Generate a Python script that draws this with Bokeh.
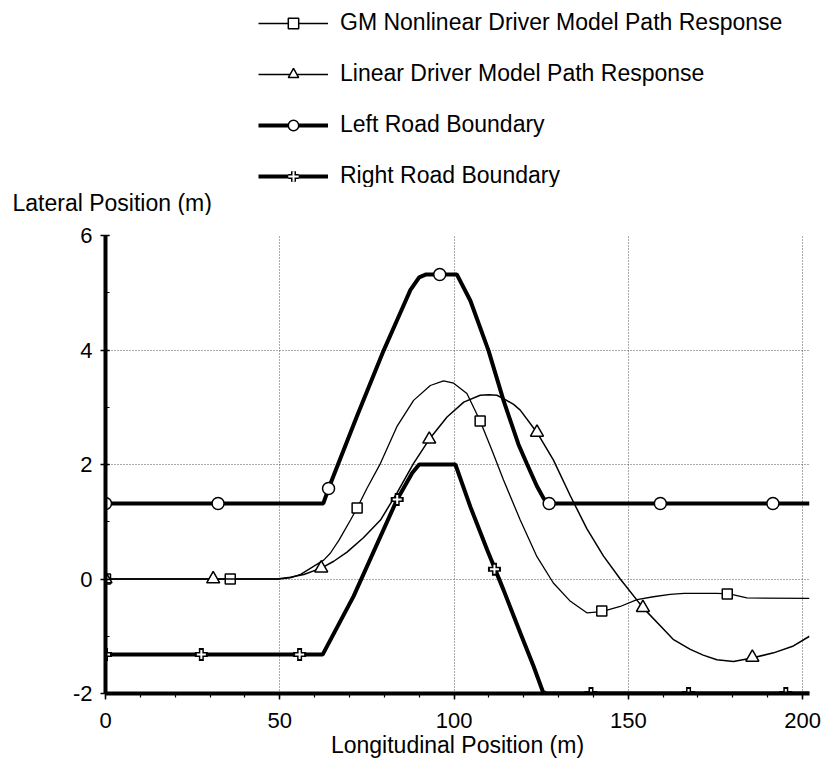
from bokeh.plotting import figure
from bokeh.models import Range1d, SingleIntervalTicker, Legend, LegendItem, Title
from bokeh.layouts import column
from bokeh.embed import file_html
from bokeh.resources import INLINE

# Longitudinal position (m) / lateral position (m) of each trace
left_x = [0, 62.5, 64.0, 72.2, 79.8, 84.6, 87.5, 90.0, 92.0, 100.8, 104.7,
          109.9, 114.2, 118.5, 121.0, 123.8, 125.8, 127.4, 202]
left_y = [1.32, 1.32, 1.58, 2.85, 3.99, 4.65, 5.05, 5.27, 5.32, 5.32, 4.86,
          3.99, 3.12, 2.35, 2.00, 1.62, 1.40, 1.32, 1.32]

right_x = [0, 62.3, 71.2, 83.6, 88.0, 90.0, 100.4, 104.7, 109.5, 114.2,
           119.0, 122.8, 125.5, 126.5, 202]
right_y = [-1.32, -1.32, -0.30, 1.38, 1.85, 2.00, 2.00, 1.26, 0.51, -0.19,
           -0.94, -1.52, -1.97, -2.00, -2.00]

gm_x = [0, 49.5, 53.0, 56.0, 59.7, 62.6, 64.5, 67.0, 70.3, 72.2, 75.0, 78.9,
        83.6, 88.4, 93.2, 97.0, 99.9, 103.7, 107.5, 111.0, 114.2, 119.0,
        123.8, 128.5, 133.4, 138.1, 142.4, 147.7, 152.5, 157.2, 162.0,
        166.0, 175.4, 179.0, 184.0, 202]
gm_y = [0, 0, 0.02, 0.08, 0.22, 0.33, 0.45, 0.68, 1.03, 1.24, 1.58, 2.02,
        2.66, 3.12, 3.38, 3.46, 3.42, 3.24, 2.76, 2.23, 1.73, 1.03,
        0.39, -0.07, -0.39, -0.59, -0.57, -0.48, -0.36, -0.31, -0.27,
        -0.25, -0.25, -0.26, -0.33, -0.34]

lin_x = [0, 49.2, 53.0, 56.9, 61.9, 65.5, 69.3, 74.0, 78.9, 83.6, 88.4, 92.9,
         98.0, 102.8, 107.5, 110.0, 112.3, 114.2, 117.1, 119.0, 123.8, 128.5,
         133.4, 138.1, 142.9, 147.7, 154.2, 161.1, 163.0, 167.8, 171.5,
         175.4, 180.2, 185.5, 191.7, 197.4, 202]
lin_y = [0, 0, 0.03, 0.08, 0.19, 0.31, 0.47, 0.72, 1.03, 1.50, 2.02, 2.44,
         2.83, 3.09, 3.21, 3.22, 3.21, 3.15, 3.05, 2.95, 2.56, 2.08,
         1.45, 0.88, 0.40, 0.00, -0.50, -0.94, -1.06, -1.23, -1.33,
         -1.41, -1.44, -1.38, -1.29, -1.17, -1.00]

# Symbol positions along each trace
gm_mx = [0, 35.8, 72.2, 107.5, 142.4, 178.4]
gm_my = [0, 0, 1.24, 2.76, -0.56, -0.26]
lin_mx = [0, 30.9, 61.9, 92.9, 123.8, 154.2, 185.6]
lin_my = [0, 0, 0.19, 2.44, 2.56, -0.50, -1.37]
left_mx = [0, 32.3, 64.0, 95.9, 127.3, 159.2, 191.5]
left_my = [1.32, 1.32, 1.58, 5.32, 1.32, 1.32, 1.32]
right_mx = [0, 27.5, 55.7, 83.7, 111.6, 139.3, 167.3, 195.2]
right_my = [-1.32, -1.32, -1.32, 1.39, 0.17, -2.0, -2.0, -2.0]

series_names = ["GM Nonlinear Driver Model Path Response",
                "Linear Driver Model Path Response",
                "Left Road Boundary",
                "Right Road Boundary"]
x_title = "Longitudinal Position (m)"
y_title = "Lateral Position (m)"

FONT = "Liberation Sans"
W = 824
HEAD_H = 215          # header strip: the key plus the y caption
MAIN_H = 778 - HEAD_H

# series styles, shared by the chart and its key
styles = {
    "gm": dict(line=dict(line_width=1.3, line_color="black"),
               marks=[dict(marker="square", size=10, fill_color="white",
                           line_color="black", line_width=1.5)]),
    "lin": dict(line=dict(line_width=1.5, line_color="black"),
                marks=[dict(marker="triangle", size=13, fill_color="white",
                            line_color="black", line_width=1.5)]),
    "left": dict(line=dict(line_width=4, line_color="black"),
                 marks=[dict(marker="circle", size=12, fill_color="white",
                             line_color="black", line_width=1.5)]),
    "right": dict(line=dict(line_width=4, line_color="black"),
                  marks=[dict(marker="cross", size=13, line_color="black", line_width=5),
                         dict(marker="cross", size=9, line_color="white", line_width=2)]),
}

# ---------------- main chart ----------------
p = figure(width=W, height=MAIN_H, output_backend="svg", toolbar_location=None,
           x_range=Range1d(0, 202), y_range=Range1d(-2, 6),
           min_border_left=105, min_border_right=15,
           min_border_top=235 - HEAD_H, min_border_bottom=85)
p.outline_line_color = None
p.background_fill_color = "white"
p.border_fill_color = "white"

p.xaxis.ticker = SingleIntervalTicker(interval=50, num_minor_ticks=5)
p.yaxis.ticker = SingleIntervalTicker(interval=2, num_minor_ticks=2)
p.yaxis.major_label_overrides = {-2: "-2"}
for ax in (p.xaxis, p.yaxis):
    ax.axis_line_width = 4
    ax.axis_line_color = "black"
    ax.major_tick_line_color = "black"
    ax.minor_tick_line_color = "black"
    ax.major_tick_line_width = 1.5
    ax.minor_tick_line_width = 1.2
    ax.major_label_text_font = FONT
    ax.major_label_text_font_size = "22px"
    ax.major_label_text_color = "black"
p.xaxis.major_tick_in = 0
p.xaxis.major_tick_out = 6
p.xaxis.minor_tick_in = 0
p.xaxis.minor_tick_out = 4
p.xaxis.major_label_standoff = 13
p.xaxis.axis_label = x_title
p.xaxis.axis_label_text_font = FONT
p.xaxis.axis_label_text_font_style = "normal"
p.xaxis.axis_label_text_font_size = "23px"
p.xaxis.axis_label_text_color = "black"
p.xaxis.axis_label_standoff = 1
p.yaxis.major_tick_in = 4
p.yaxis.major_tick_out = 5
p.yaxis.minor_tick_in = 4
p.yaxis.minor_tick_out = 0
p.yaxis.major_label_standoff = 8

p.grid.grid_line_color = "#555555"
p.grid.grid_line_dash = "1 2"
p.grid.grid_line_width = 1

traces = [("gm", gm_x, gm_y, gm_mx, gm_my),
          ("lin", lin_x, lin_y, lin_mx, lin_my),
          ("left", left_x, left_y, left_mx, left_my),
          ("right", right_x, right_y, right_mx, right_my)]
for key, xs, ys, mxs, mys in traces:
    p.line(xs, ys, **styles[key]["line"])
    for m in styles[key]["marks"]:
        p.scatter(mxs, mys, **m)

# ---------------- header: the key and the y caption ----------------
head = figure(width=W, height=HEAD_H, output_backend="svg", toolbar_location=None,
              x_range=Range1d(0, 1), y_range=Range1d(0, 1),
              min_border=0, x_axis_type=None, y_axis_type=None)
head.outline_line_color = None
head.grid.visible = False
head.background_fill_color = "white"
head.border_fill_color = "white"

head.add_layout(Title(text=y_title, align="left", offset=-93, standoff=0,
                      text_font=FONT, text_font_size="23px",
                      text_font_style="normal", text_color="black"), "below")

items = []
for name, (key, *_rest) in zip(series_names, traces):
    # off-range stand-ins that only supply the key's line and symbol styles
    rs = [head.line([-9], [-9], **styles[key]["line"])]
    for m in styles[key]["marks"]:
        rs.append(head.scatter([-9], [-9], **m))
    items.append(LegendItem(label=name, renderers=rs))

legend = Legend(items=items, location=(153, -2))
legend.border_line_color = None
legend.background_fill_alpha = 0
legend.padding = 0
legend.margin = 0
legend.spacing = 24
legend.glyph_width = 70
legend.glyph_height = 26
legend.label_height = 26
legend.label_standoff = 12
legend.label_text_font = FONT
legend.label_text_font_size = "23px"
legend.label_text_color = "black"
head.add_layout(legend)

layout = column(head, p, spacing=0)
open("out.html", "w").write(file_html(layout, INLINE))
